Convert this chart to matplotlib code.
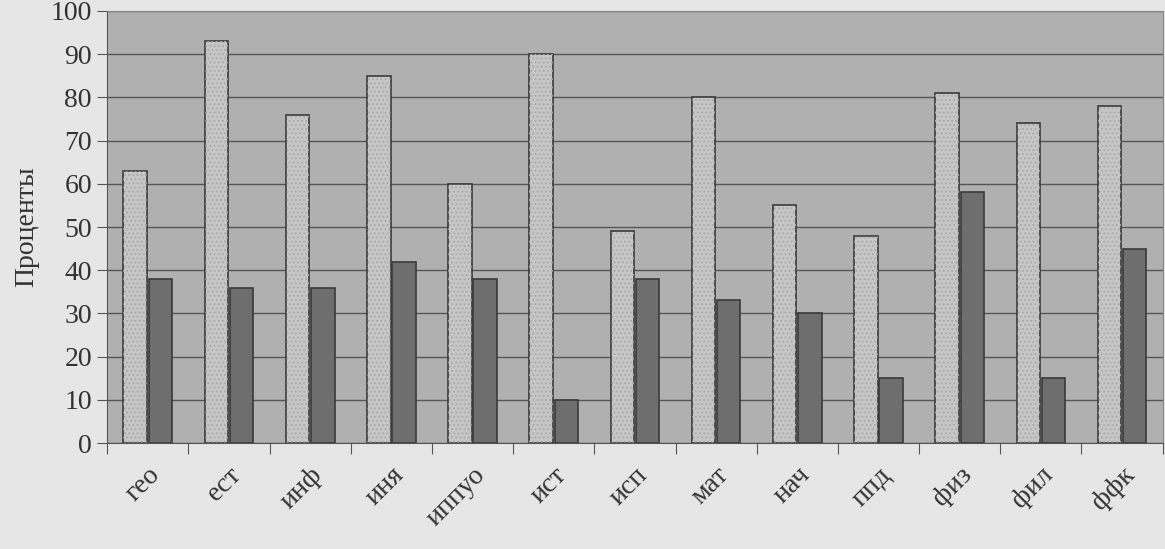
import numpy as np
import matplotlib
matplotlib.use("Agg")
import matplotlib.pyplot as plt

# Data
categories = ["гео", "ест", "инф", "иня", "иппуо", "ист", "исп",
              "мат", "нач", "ппд", "физ", "фил", "ффк"]
series_light = [63, 93, 76, 85, 60, 90, 49, 80, 55, 48, 81, 74, 78]
series_dark = [38, 36, 36, 42, 38, 10, 38, 33, 30, 15, 58, 15, 45]
y_ticks = list(range(0, 101, 10))

plt.rcParams['font.family'] = ['Liberation Serif', 'DejaVu Serif']
plt.rcParams['hatch.color'] = "#a8a8a8"
plt.rcParams['hatch.linewidth'] = 0.8

fig = plt.figure(figsize=(11.65, 5.49), dpi=100, facecolor="#e6e6e6")
ax = fig.add_axes([0.092, 0.193, 0.906, 0.787])
ax.set_facecolor("#b0b0b0")

x = np.arange(len(categories))
w = 0.29
ax.bar(x - w / 2 - 0.01, series_light, w, color="#c6c6c6", edgecolor="#3a3a3a",
       linewidth=1.2, zorder=3)
ax.bar(x - w / 2 - 0.01, series_light, w, color="none", edgecolor="#a8a8a8",
       linewidth=0, hatch="....", zorder=3)
ax.bar(x + w / 2 + 0.01, series_dark, w, color="#6e6e6e", edgecolor="#3a3a3a",
       linewidth=1.2, zorder=3)

ax.set_xlim(-0.5, len(categories) - 0.5)
ax.set_ylim(0, 100)
ax.set_yticks(y_ticks)
ax.set_yticklabels([str(t) for t in y_ticks], fontsize=20, color="#333333")
ax.yaxis.grid(True, color="#555555", linewidth=1.0, zorder=0)
ax.set_axisbelow(True)

# ticks on category boundaries, labels centered
ax.set_xticks(np.arange(len(categories) + 1) - 0.5)
ax.set_xticklabels([])
ax.set_xticks(x, minor=True)
ax.set_xticklabels(categories, minor=True, rotation=45, ha="right",
                   rotation_mode="anchor", fontsize=20, color="#333333")
ax.tick_params(axis="x", which="minor", length=0, pad=14)
ax.tick_params(axis="x", which="major", length=8, color="#555555")
ax.tick_params(axis="y", length=7, color="#555555", pad=4)

for s in ax.spines.values():
    s.set_color("#555555")
ax.spines["top"].set_color("#888888")
ax.spines["right"].set_color("#888888")

ax.set_ylabel("Проценты", fontsize=20, color="#333333", labelpad=8)

fig.savefig("out.png", dpi=100, facecolor=fig.get_facecolor())
